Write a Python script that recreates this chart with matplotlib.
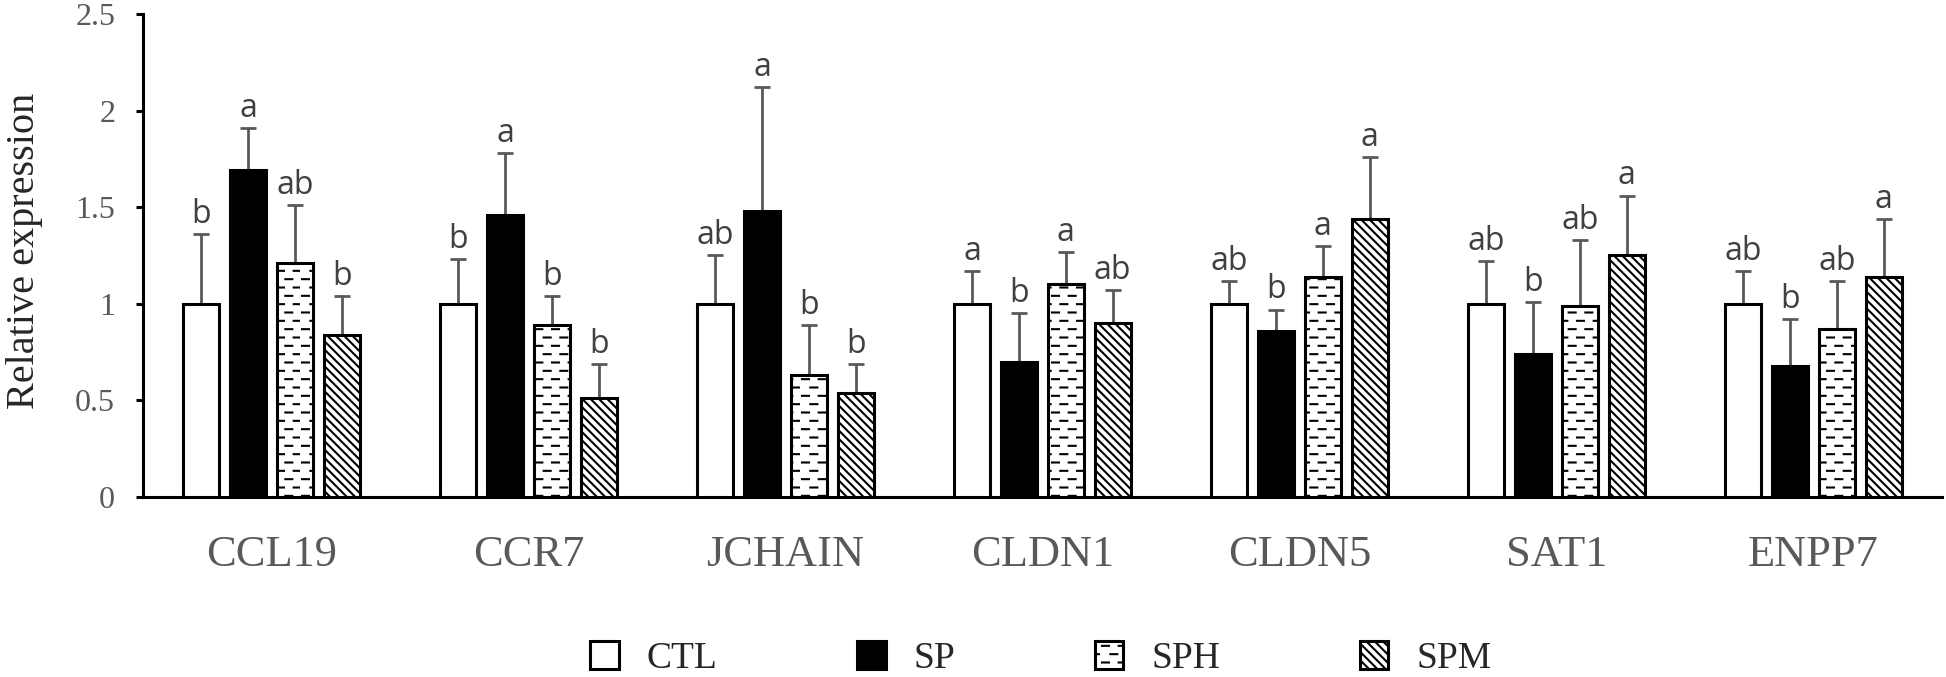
import numpy as np
import matplotlib
matplotlib.use("Agg")
import matplotlib.pyplot as plt
import matplotlib.hatch as mhatch
from matplotlib.path import Path

# ---------------- data ----------------
genes = ["CCL19", "CCR7", "JCHAIN", "CLDN1", "CLDN5", "SAT1", "ENPP7"]
groups = ["CTL", "SP", "SPH", "SPM"]

ctl = [1.00, 1.00, 1.00, 1.00, 1.00, 1.00, 1.00]
sp = [1.69, 1.46, 1.48, 0.70, 0.86, 0.74, 0.68]
sph = [1.21, 0.89, 0.63, 1.10, 1.14, 0.99, 0.87]
spm = [0.84, 0.51, 0.54, 0.90, 1.44, 1.25, 1.14]

ctl_sd = [0.36, 0.23, 0.25, 0.17, 0.12, 0.22, 0.17]
sp_sd = [0.22, 0.32, 0.64, 0.25, 0.11, 0.27, 0.24]
sph_sd = [0.30, 0.15, 0.26, 0.17, 0.16, 0.34, 0.25]
spm_sd = [0.20, 0.18, 0.15, 0.17, 0.32, 0.31, 0.30]

ctl_sig = ["b", "b", "ab", "a", "ab", "ab", "ab"]
sp_sig = ["a", "a", "a", "b", "b", "b", "b"]
sph_sig = ["ab", "b", "b", "a", "a", "ab", "ab"]
spm_sig = ["b", "b", "b", "ab", "a", "a", "a"]

yticks = [0, 0.5, 1, 1.5, 2, 2.5]
ytick_labels = ["0", "0.5", "1", "1.5", "2", "2.5"]


# ------------- custom dashed hatch (uses the '.' symbol) -------------
class DashHatch(mhatch.HatchPatternBase):
    def __init__(self, hatch, density):
        self.num_rows = int(hatch.count('.') * density)
        self.per_row = 6
        self.dash = 0.07
        self.num_vertices = self.num_rows * self.per_row * 2

    def set_vertices_and_codes(self, vertices, codes):
        pts = []
        for r in range(self.num_rows):
            y = (r + 0.5) / self.num_rows
            off = 0.5 / self.per_row if r % 2 else 0.0
            for c in range(self.per_row):
                x0 = c / self.per_row + off + 0.02
                pts.append((x0, y))
                pts.append((x0 + self.dash, y))
        vertices[:] = np.array(pts)
        codes[0::2] = Path.MOVETO
        codes[1::2] = Path.LINETO


mhatch._hatch_types[:] = [t for t in mhatch._hatch_types
                          if t is not mhatch.SmallFilledCircles] + [DashHatch]

plt.rcParams['hatch.linewidth'] = 1.5
plt.rcParams['font.family'] = ['Liberation Serif', 'DejaVu Serif']

fig = plt.figure(figsize=(19.46, 6.77), dpi=100)
ax = fig.add_axes([143 / 1946, 1 - 497 / 677, (1942 - 143) / 1946, (497 - 14) / 677])

values = [ctl, sp, sph, spm]
sds = [ctl_sd, sp_sd, sph_sd, spm_sd]
sigs = [ctl_sig, sp_sig, sph_sig, spm_sig]
faces = ["white", "black", "white", "white"]
hatches = [None, None, "..", "\\\\\\\\"]

x = np.arange(len(genes)) + 0.5
step = 0.182
width = 0.14

for j, g in enumerate(groups):
    xs = x + (j - 1.5) * step
    ax.bar(xs, values[j], width=width, color=faces[j], edgecolor="black",
           linewidth=2.2, hatch=hatches[j], label=g, zorder=3)
    ax.errorbar(xs, values[j], yerr=[np.zeros(len(genes)), sds[j]], fmt="none",
                ecolor="#595959", elinewidth=2.0, capsize=6, capthick=2.0, zorder=2)
    for xi, v, s, lab in zip(xs, values[j], sds[j], sigs[j]):
        ax.annotate(lab, xy=(xi, v + s), xytext=(0, 8), textcoords="offset points",
                    ha="center", va="baseline", fontsize=23, color="#404040",
                    family=["Open Sans", "DejaVu Sans"])

ax.set_xlim(0, len(genes))
ax.set_ylim(0, 2.5)
ax.set_yticks(yticks)
ax.set_yticklabels(ytick_labels)
ax.set_xticks(x)
ax.set_xticklabels(genes)

for s in ["top", "right"]:
    ax.spines[s].set_visible(False)
for s in ["left", "bottom"]:
    ax.spines[s].set_linewidth(2.2)
    ax.spines[s].set_color("black")
    ax.spines[s].set_capstyle("projecting")

ax.tick_params(axis="y", direction="out", length=5, width=2.2, color="black",
               pad=15, labelsize=23, labelcolor="#595959")
ax.tick_params(axis="x", length=0, pad=27, labelsize=32, labelcolor="#595959")

fig.text(25 / 1946, 1 - 251 / 677, "Relative expression", rotation=90,
         ha="center", va="center", fontsize=29, color="#262626")

fig.legend(loc="center", bbox_to_anchor=(0.535, 0.027), ncol=4, frameon=False,
           handlelength=0.75, handleheight=0.77, handletextpad=0.75,
           columnspacing=3.73, borderpad=0, borderaxespad=0,
           prop={"size": 27, "family": "Liberation Serif"}, labelcolor="#262626")

fig.savefig("out.png", dpi=100)
